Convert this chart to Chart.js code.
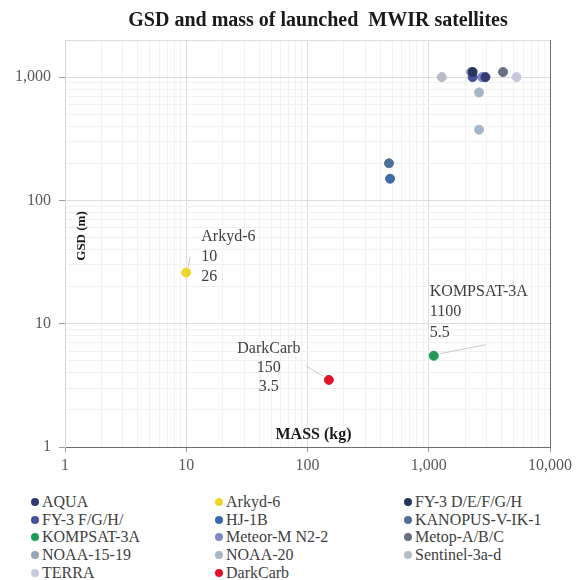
<!DOCTYPE html>
<html lang="en">

<head>
    <meta charset="UTF-8">
    <title>GSD and mass of launched MWIR satellites</title>
    <script src="https://cdn.jsdelivr.net/npm/chart.js"></script>
    <style>
        body {
            margin: 0;
            padding: 0;
            background: #ffffff;
            font-family: "Liberation Serif", "Times New Roman", serif;
        }

        .wrap {
            position: relative;
            width: 582px;
            height: 580px;
        }

        .chart-box {
            position: absolute;
            left: 0;
            top: 0;
            width: 582px;
            height: 480px;
        }

        .legend {
            position: absolute;
            left: 31px;
            top: 493px;
            display: grid;
            grid-template-columns: 184px 189px 170px;
            font-size: 16px;
            line-height: 17.7px;
            color: #404040;
        }

        .legend-item {
            display: flex;
            align-items: center;
            white-space: nowrap;
        }

        .legend-item span.dot {
            width: 8px;
            height: 8px;
            border-radius: 50%;
            margin-right: 3px;
            flex: none;
        }
    </style>
</head>

<body>
    <div class="wrap">
        <div class="chart-box">
            <canvas id="gsdChart"></canvas>
        </div>
        <div class="legend" id="legend"></div>
    </div>

    <script>
        // satellites (one series each)
        const satellites = ['AQUA', 'Arkyd-6', 'FY-3 D/E/F/G/H', 'FY-3 F/G/H/', 'HJ-1B', 'KANOPUS-V-IK-1',
            'KOMPSAT-3A', 'Meteor-M N2-2', 'Metop-A/B/C', 'NOAA-15-19', 'NOAA-20', 'Sentinel-3a-d', 'TERRA', 'DarkCarb'];
        // mass in kg
        const massKg = [[2934], [10], [2300], [2300], [480], [470], [1100], [2750], [4100], [2230], [2600, 2600], [1280], [5300], [150]];
        // ground sample distance in m
        const gsdM = [[1000], [26], [1100], [1000], [150], [200], [5.5], [1000], [1100], [1100], [750, 375], [1000], [1000], [3.5]];
        // labelled points
        const labelled = ['Arkyd-6', 'KOMPSAT-3A', 'DarkCarb'];
        // axis tick labels
        const xTicks = [1, 10, 100, 1000, 10000];
        const yTicks = [1, 10, 100, 1000];

        const colors = ['#2f3b72', '#eed52c', '#24365f', '#4a4f9e', '#3f69a8', '#4f6f98', '#1e9a57',
            '#7f89c2', '#676f80', '#98a3b6', '#a5b6c6', '#b6bcc6', '#c7c8da', '#e3122c'];

        const serif = '"Liberation Serif", "Times New Roman", serif';

        function logTicks(max) {
            const out = [];
            for (let d = 1; d <= max; d *= 10) {
                for (let m = 1; m <= 9; m++) {
                    if (m * d <= max) out.push(m * d);
                }
            }
            return out;
        }

        const datasets = satellites.map((name, i) => ({
            label: name,
            data: massKg[i].map((m, j) => ({ x: m, y: gsdM[i][j] })),
            backgroundColor: colors[i],
            borderColor: colors[i],
            borderWidth: 1,
            pointRadius: 4.5
        }));

        // titles and point labels
        const textPlugin = {
            id: 'texts',
            afterDraw(chart) {
                const ctx = chart.ctx;
                const area = chart.chartArea;
                ctx.save();

                ctx.fillStyle = '#1a1a1a';
                ctx.textAlign = 'center';
                ctx.textBaseline = 'middle';
                ctx.font = 'bold 20px ' + serif;
                ctx.fillText('GSD and mass of launched  MWIR satellites', 318, 21);

                ctx.font = 'bold 16px ' + serif;
                ctx.fillText('MASS (kg)', (area.left + area.right) / 2 + 6, area.bottom - 12);

                ctx.save();
                ctx.translate(area.left + 17, 236);
                ctx.rotate(-Math.PI / 2);
                ctx.font = 'bold 13px ' + serif;
                ctx.fillText('GSD (m)', 0, 0);
                ctx.restore();

                ctx.font = '16px ' + serif;
                ctx.fillStyle = '#404040';
                ctx.strokeStyle = '#c8c8c8';
                ctx.lineWidth = 1;

                labelled.forEach(name => {
                    const i = satellites.indexOf(name);
                    const p = chart.getDatasetMeta(i).data[0];
                    const lines = [name, String(massKg[i][0]), String(gsdM[i][0])];
                    let tx, dy, lead;
                    if (name === 'Arkyd-6') {
                        ctx.textAlign = 'left';
                        tx = p.x + 15;
                        dy = [-36, -16, 4];
                        lead = [2, -6, 4, -16];
                    } else if (name === 'KOMPSAT-3A') {
                        ctx.textAlign = 'left';
                        tx = p.x - 4;
                        dy = [-64, -44, -23];
                        lead = [6, -2, 52, -11];
                    } else {
                        ctx.textAlign = 'center';
                        tx = p.x - 60;
                        dy = [-31, -12, 7];
                        lead = [-6, -4, -23, -14];
                    }
                    ctx.beginPath();
                    ctx.moveTo(p.x + lead[0], p.y + lead[1]);
                    ctx.lineTo(p.x + lead[2], p.y + lead[3]);
                    ctx.stroke();
                    lines.forEach((t, k) => ctx.fillText(t, tx, p.y + dy[k]));
                });
                ctx.restore();
            }
        };

        const ctx1 = document.getElementById('gsdChart').getContext('2d');
        new Chart(ctx1, {
            type: 'scatter',
            data: { datasets: datasets },
            options: {
                responsive: true,
                maintainAspectRatio: false,
                animation: false,
                layout: { padding: { top: 40, right: 32, left: 0, bottom: 0 } },
                plugins: {
                    legend: { display: false },
                    tooltip: { enabled: false }
                },
                scales: {
                    x: {
                        type: 'logarithmic',
                        min: 1,
                        max: 10000,
                        afterBuildTicks: s => { s.ticks = logTicks(10000).map(v => ({ value: v })); },
                        afterFit: s => { s.height = 33; },
                        ticks: {
                            autoSkip: false,
                            maxRotation: 0,
                            padding: 4,
                            color: '#595959',
                            font: { family: serif, size: 16 },
                            callback: v => xTicks.includes(v) ? v.toLocaleString('en-US') : ''
                        },
                        grid: {
                            tickLength: 5,
                            color: c => c.tick && c.tick.value === 10000 ? '#6e6e6e'
                                : (c.tick && xTicks.includes(c.tick.value) ? '#dcdcdc' : '#f1f1f1'),
                            tickColor: c => c.tick && xTicks.includes(c.tick.value) ? '#9a9a9a' : 'rgba(0,0,0,0)'
                        },
                        border: { color: '#6e6e6e', width: 1 }
                    },
                    y: {
                        type: 'logarithmic',
                        min: 1,
                        max: 2000,
                        afterBuildTicks: s => { s.ticks = logTicks(2000).map(v => ({ value: v })); },
                        afterFit: s => { s.width = 65; },
                        ticks: {
                            autoSkip: false,
                            padding: 8,
                            color: '#595959',
                            font: { family: serif, size: 16 },
                            callback: v => yTicks.includes(v) ? v.toLocaleString('en-US') : ''
                        },
                        grid: {
                            tickLength: 6,
                            color: c => c.tick && (yTicks.includes(c.tick.value) || c.tick.value === 2000) ? '#dcdcdc' : '#f1f1f1',
                            tickColor: c => c.tick && yTicks.includes(c.tick.value) ? '#9a9a9a' : 'rgba(0,0,0,0)'
                        },
                        border: { color: '#d4d4d4', width: 1 }
                    }
                }
            },
            plugins: [textPlugin]
        });

        // legend in three columns
        const legend = document.getElementById('legend');
        satellites.forEach((name, i) => {
            const item = document.createElement('div');
            item.className = 'legend-item';
            const dot = document.createElement('span');
            dot.className = 'dot';
            dot.style.background = colors[i];
            item.appendChild(dot);
            item.appendChild(document.createTextNode(name));
            legend.appendChild(item);
        });
    </script>
</body>

</html>
